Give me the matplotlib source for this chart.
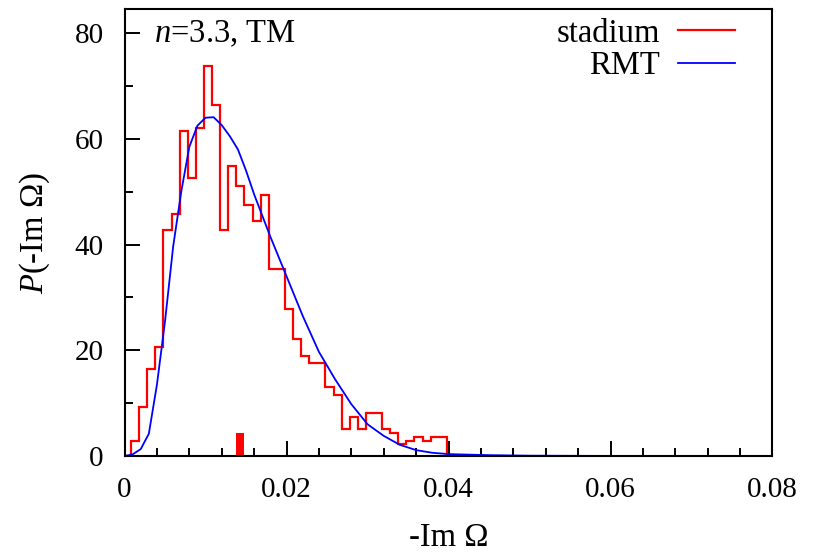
import numpy as np
import matplotlib
matplotlib.use("Agg")
import matplotlib.pyplot as plt
from matplotlib.ticker import MultipleLocator

plt.rcParams['font.family'] = ['Liberation Serif', 'DejaVu Serif']
plt.rcParams['mathtext.fontset'] = 'custom'
plt.rcParams['mathtext.rm'] = 'Liberation Serif'
plt.rcParams['mathtext.it'] = 'Liberation Serif:italic'

# histogram of -Im(Omega) for the stadium, bins of width 0.001
bin_start = 0.0008
bin_width = 0.001
stadium_counts = [2.8, 9.2, 16.4, 20.7, 42.7, 45.8, 61.4, 52.6, 62.1, 73.7,
                  66.5, 42.7, 54.8, 51.0, 47.5, 44.4, 49.3, 35.4, 35.4, 27.8,
                  22.2, 19.0, 17.6, 17.6, 13.1, 11.6, 5.1, 7.4, 5.1, 8.2,
                  8.2, 5.05, 4.4, 2.2, 2.84, 3.5, 2.8, 3.5, 3.5]

# random matrix theory prediction
rmt_x = [0, 0.001, 0.002, 0.003, 0.004, 0.005, 0.006, 0.007, 0.008, 0.009,
         0.010, 0.011, 0.012, 0.013, 0.014, 0.015, 0.016, 0.018, 0.020, 0.022,
         0.024, 0.026, 0.028, 0.030, 0.032, 0.034, 0.036, 0.038, 0.040, 0.045,
         0.050, 0.060, 0.080]
rmt_y = [0, 0.3, 1.3, 4.2, 13.5, 25.5, 39.6, 50.0, 58.5, 62.5,
         64.0, 64.1, 62.6, 60.5, 58.0, 54.0, 49.5, 41.5, 34.0, 26.5,
         19.7, 14.5, 9.8, 6.0, 3.8, 2.1, 1.1, 0.6, 0.35, 0.15,
         0.05, 0.0, 0.0]

# marker bar on the axis
mark_x = 0.01425
mark_w = 0.0009
mark_h = 4.4

edges = bin_start + bin_width * np.arange(len(stadium_counts) + 1)
step_x = np.repeat(edges, 2)
step_y = np.concatenate([[0], np.repeat(stadium_counts, 2), [0]])

fig = plt.figure(figsize=(8.14, 5.52), dpi=100)
ax = fig.add_axes([0.153, 0.174, 0.796, 0.809])

ax.plot(step_x, step_y, color='#ff0000', lw=1.6, label='stadium', solid_joinstyle='miter')
ax.plot(rmt_x, rmt_y, color='#0000ff', lw=1.3, label='RMT')
ax.bar([mark_x], [mark_h], width=mark_w, color='#ff0000', lw=0)

ax.set_xlim(0, 0.08)
ax.set_ylim(0, 84.5)
ax.xaxis.set_major_locator(MultipleLocator(0.02))
ax.xaxis.set_minor_locator(MultipleLocator(0.004))
ax.yaxis.set_major_locator(MultipleLocator(20))
ax.yaxis.set_minor_locator(MultipleLocator(10))
ax.xaxis.set_major_formatter(plt.FuncFormatter(lambda v, p: '0' if v == 0 else '%g' % v))

ax.tick_params(which='both', direction='in', top=False, right=False, labelsize=21, pad=15)
ax.tick_params(which='major', length=11, width=1.4)
ax.tick_params(which='minor', length=5.5, width=1.4)
for s in ax.spines.values():
    s.set_linewidth(1.5)

ax.set_xlabel('-Im Ω', fontsize=23.5, labelpad=14.5)
ax.set_ylabel('$P$(-Im Ω)', fontsize=23.5, labelpad=16)

ax.text(0.045, 0.945, '$n$=3.3, TM', transform=ax.transAxes, fontsize=23.5, va='center', ha='left')

ax.legend(loc='upper right', bbox_to_anchor=(0.9424, 0.98), frameon=False,
          markerfirst=False, fontsize=23.5, handlelength=1.75, handletextpad=0.55,
          labelspacing=0.05, borderaxespad=0, borderpad=0)

fig.savefig('out.png', dpi=100)
